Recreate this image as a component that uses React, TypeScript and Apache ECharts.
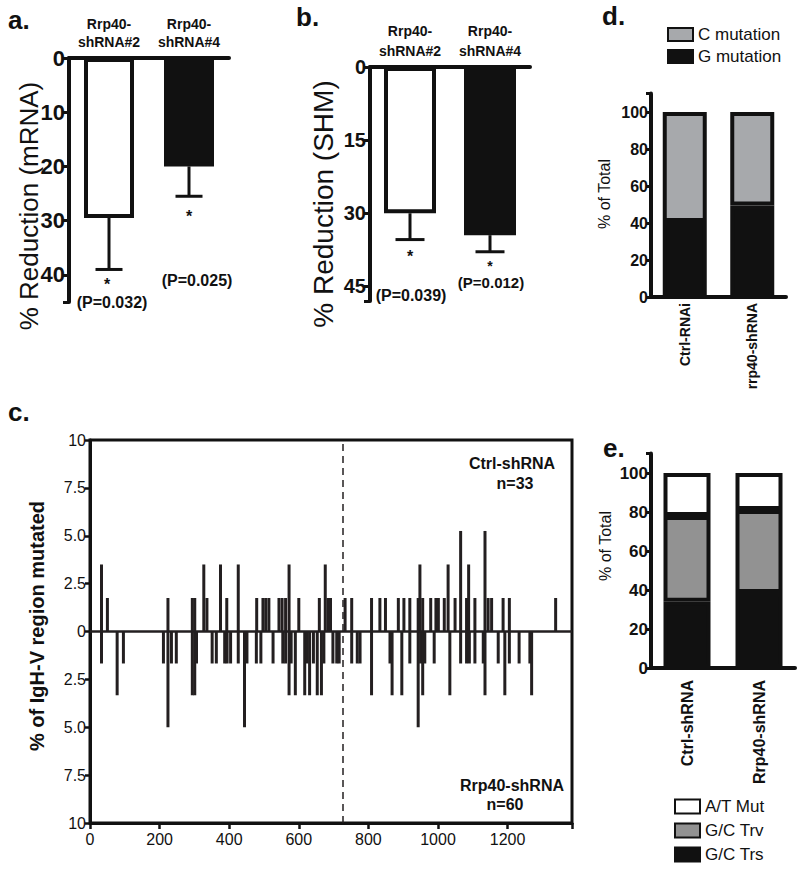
import React, { useEffect, useRef } from "react";
import * as echarts from "echarts";

const FONT = '"Liberation Sans", Arial, Helvetica, sans-serif';
const INK = "#111111";

// ---------- panel a ----------
const aCategories = ["Rrp40-\nshRNA#2", "Rrp40-\nshRNA#4"];
const aValues = [29.5, 20];
const aErrors = [9.5, 5.5];
const aTicks = [0, 10, 20, 30, 40];
const aPValues = ["(P=0.032)", "(P=0.025)"];

// ---------- panel b ----------
const bCategories = ["Rrp40-\nshRNA#2", "Rrp40-\nshRNA#4"];
const bValues = [30, 34.5];
const bErrors = [5.4, 3.4];
const bTicks = [0, 15, 30, 45];
const bPValues = ["(P=0.039)", "(P=0.012)"];

// ---------- panel c ----------
const ctrlPos = [33, 50, 224, 294, 301, 327, 336, 375, 393, 426, 479, 497, 505, 514, 543, 552, 562, 572, 600, 659, 676, 684, 691, 733, 752, 809, 833, 849, 886, 902, 919, 943, 948, 956, 979, 994, 1001, 1018, 1029, 1049, 1065, 1082, 1088, 1106, 1135, 1144, 1154, 1187, 1205, 1338];
const ctrlVal = [3.5, 1.75, 1.75, 1.75, 1.75, 3.5, 1.75, 3.5, 1.75, 3.5, 1.75, 1.75, 1.75, 1.75, 1.75, 1.75, 1.75, 3.5, 1.75, 1.75, 3.5, 1.75, 1.75, 1.75, 1.75, 1.75, 1.75, 1.75, 1.75, 1.75, 1.75, 1.75, 3.5, 1.75, 1.75, 1.75, 1.75, 1.75, 3.5, 1.75, 5.25, 1.75, 3.5, 1.75, 5.25, 1.75, 1.75, 1.75, 1.75, 1.75];
const rrpPos = [33, 78, 96, 211, 224, 234, 248, 294, 301, 306, 351, 363, 387, 394, 404, 426, 444, 451, 478, 491, 526, 554, 562, 572, 578, 590, 617, 624, 631, 642, 653, 665, 672, 698, 709, 716, 752, 768, 776, 809, 862, 868, 896, 919, 943, 950, 956, 962, 989, 1034, 1065, 1082, 1090, 1106, 1130, 1135, 1173, 1192, 1205, 1233, 1264, 1269];
const rrpVal = [1.67, 3.33, 1.67, 1.67, 5.0, 1.67, 1.67, 3.33, 3.33, 1.67, 1.67, 1.67, 1.67, 1.67, 1.67, 1.67, 5.0, 1.67, 1.67, 1.67, 1.67, 1.67, 1.67, 3.33, 1.67, 3.33, 3.33, 1.67, 3.33, 1.67, 3.33, 3.33, 1.67, 1.67, 1.67, 1.67, 1.67, 1.67, 1.67, 3.33, 1.67, 3.33, 3.33, 1.67, 5.0, 1.67, 3.33, 1.67, 1.67, 3.33, 1.67, 1.67, 1.67, 1.67, 1.67, 3.33, 1.67, 3.33, 1.67, 1.67, 1.67, 3.33];
const cXTicks = [0, 200, 400, 600, 800, 1000, 1200];
const cDivider = 727;

// ---------- panel d ----------
const dCategories = ["Ctrl-RNAi", "rrp40-shRNA"];
const dG = [40.5, 49.5];
const dC = [59.5, 50.5];
const pctTicks = [0, 20, 40, 60, 80, 100];

// ---------- panel e ----------
const eCategories = ["Ctrl-shRNA", "Rrp40-shRNA"];
const eTrs = [34, 38.5];
const eTrv = [44, 42.5];
const eAT = [22, 19];

function txt(x: number, y: number, text: string, fontSize: number, fontWeight: string = "normal", rotation = 0, align = "center") {
  return {
    type: "text",
    x,
    y,
    rotation,
    silent: true,
    style: { text, fontSize, fontWeight, fontFamily: FONT, fill: INK, align, verticalAlign: "middle" },
  };
}

const onlyTicks = (ticks: number[]) => (v: number) => (ticks.indexOf(v) >= 0 ? String(v) : "");

function errorSeries(xi: number, values: number[], errors: number[], cap: number) {
  return {
    type: "custom",
    xAxisIndex: xi,
    yAxisIndex: xi,
    silent: true,
    z: 1,
    data: values.map((v, i) => [i, v, errors[i]]),
    encode: { x: 0, y: 1 },
    renderItem: (_p: any, api: any) => {
      const x = api.value(0);
      const m = api.value(1);
      const e = api.value(2);
      const p0 = api.coord([x, m]);
      const p1 = api.coord([x, m + e]);
      return {
        type: "group",
        children: [
          { type: "line", shape: { x1: p0[0], y1: p0[1], x2: p1[0], y2: p1[1] }, style: { stroke: INK, lineWidth: 3 } },
          { type: "line", shape: { x1: p1[0] - cap, y1: p1[1], x2: p1[0] + cap, y2: p1[1] }, style: { stroke: INK, lineWidth: 3 } },
        ],
      };
    },
  };
}

function catTopAxis(gi: number, data: string[], lineHeight: number, margin: number) {
  return {
    type: "category",
    gridIndex: gi,
    position: "top",
    data,
    axisLine: { onZero: false, lineStyle: { color: INK, width: 4 } },
    axisTick: { alignWithLabel: true, interval: 0, length: 6, lineStyle: { color: INK, width: 3 } },
    axisLabel: { interval: 0, color: INK, fontFamily: FONT, fontWeight: "bold", fontSize: 14, lineHeight, margin },
  };
}

function invValueAxis(gi: number, max: number, ticks: number[], fontSize: number) {
  return {
    type: "value",
    gridIndex: gi,
    inverse: true,
    min: 0,
    max,
    interval: ticks[1] - ticks[0],
    splitLine: { show: false },
    axisLine: { show: true, onZero: false, lineStyle: { color: INK, width: 4 } },
    axisTick: { show: true, length: 6, lineStyle: { color: INK, width: 3 } },
    axisLabel: { color: INK, fontFamily: FONT, fontWeight: "bold", fontSize, margin: 4, formatter: onlyTicks(ticks) },
  };
}

function catBottomAxis(gi: number, data: string[], fontSize: number, margin: number) {
  return {
    type: "category",
    gridIndex: gi,
    data,
    axisLine: { onZero: false, lineStyle: { color: INK, width: 4 } },
    axisTick: { alignWithLabel: true, interval: 0, length: 6, lineStyle: { color: INK, width: 3 } },
    axisLabel: { interval: 0, color: INK, fontFamily: FONT, fontWeight: "bold", fontSize, rotate: 90, margin },
  };
}

function pctAxis(gi: number, fontSize: number) {
  return {
    type: "value",
    gridIndex: gi,
    min: 0,
    max: 110,
    interval: 20,
    splitLine: { show: false },
    axisLine: { show: true, onZero: false, lineStyle: { color: INK, width: 4 } },
    axisTick: { show: true, length: 5, lineStyle: { color: INK, width: 3 } },
    axisLabel: { color: INK, fontFamily: FONT, fontWeight: "bold", fontSize, margin: 3, formatter: onlyTicks(pctTicks) },
  };
}

function buildOption() {
  const cData = [
    ...ctrlPos.map((p, i) => [p, ctrlVal[i]]),
    ...rrpPos.map((p, i) => [p, -rrpVal[i]]),
  ];
  const fmtC = (v: number) => {
    const a = Math.abs(v);
    if (a === 0) return "0";
    if (a === 10) return "10";
    return a.toFixed(1);
  };
  const barBorder = { borderColor: INK, borderWidth: 4 };

  return {
    animation: false,
    backgroundColor: "#ffffff",
    textStyle: { fontFamily: FONT },
    grid: [
      { left: 69, top: 58, width: 160, height: 244 },
      { left: 370, top: 67, width: 160, height: 234 },
      { left: 90, top: 440, width: 482, height: 383, show: true, borderColor: INK, borderWidth: 3 },
      { left: 651, top: 93.5, width: 135, height: 203.5 },
      { left: 651, top: 453.5, width: 144, height: 214.5 },
    ],
    xAxis: [
      catTopAxis(0, aCategories, 18, 7),
      catTopAxis(1, bCategories, 20, 6),
      {
        type: "value",
        gridIndex: 2,
        min: 0,
        max: 1385,
        interval: 200,
        splitLine: { show: false },
        axisLine: { onZero: false, lineStyle: { color: INK, width: 3 } },
        axisTick: { length: 6, lineStyle: { color: INK, width: 2.5 } },
        axisLabel: { color: INK, fontFamily: FONT, fontSize: 16, margin: 8, formatter: onlyTicks(cXTicks) },
      },
      catBottomAxis(3, dCategories, 14, 6),
      catBottomAxis(4, eCategories, 16, 12),
    ],
    yAxis: [
      invValueAxis(0, 45, aTicks, 22),
      invValueAxis(1, 48, bTicks, 20),
      {
        type: "value",
        gridIndex: 2,
        min: -10,
        max: 10,
        interval: 2.5,
        splitLine: { show: false },
        axisLine: { show: true, onZero: false, lineStyle: { color: INK, width: 3 } },
        axisTick: { show: true, length: 5, lineStyle: { color: INK, width: 2.5 } },
        axisLabel: { color: INK, fontFamily: FONT, fontSize: 16, margin: 4, formatter: fmtC },
      },
      pctAxis(3, 16),
      pctAxis(4, 17),
    ],
    legend: [
      {
        data: ["C mutation", "G mutation"],
        orient: "vertical",
        left: 667,
        top: 26,
        padding: 0,
        itemWidth: 25,
        itemHeight: 13,
        itemGap: 5,
        icon: "rect",
        selectedMode: false,
        textStyle: { fontSize: 17, fontFamily: FONT, color: INK },
      },
      {
        data: ["A/T Mut", "G/C Trv", "G/C Trs"],
        orient: "vertical",
        left: 674,
        top: 798,
        padding: 0,
        itemWidth: 25,
        itemHeight: 14,
        itemGap: 7,
        icon: "rect",
        selectedMode: false,
        textStyle: { fontSize: 17, fontFamily: FONT, color: INK },
      },
    ],
    series: [
      {
        type: "bar",
        xAxisIndex: 0,
        yAxisIndex: 0,
        barWidth: 50,
        silent: true,
        z: 2,
        data: aValues.map((v, i) => ({ value: v, itemStyle: { color: i === 0 ? "#ffffff" : INK, ...barBorder } })),
      },
      errorSeries(0, aValues, aErrors, 13.5),
      {
        type: "bar",
        xAxisIndex: 1,
        yAxisIndex: 1,
        barWidth: 52,
        silent: true,
        z: 2,
        data: bValues.map((v, i) => ({ value: v, itemStyle: { color: i === 0 ? "#ffffff" : INK, ...barBorder } })),
      },
      errorSeries(1, bValues, bErrors, 14.5),
      {
        type: "bar",
        xAxisIndex: 2,
        yAxisIndex: 2,
        barWidth: 3,
        silent: true,
        itemStyle: { color: "#231f20" },
        data: cData,
        markLine: {
          silent: true,
          symbol: "none",
          label: { show: false },
          data: [
            { yAxis: 0, lineStyle: { color: "#231f20", width: 2.5, type: "solid" } },
            { xAxis: cDivider, lineStyle: { color: "#231f20", width: 1.5, type: [7, 5] } },
          ],
        },
      },
      {
        name: "G mutation",
        type: "bar",
        xAxisIndex: 3,
        yAxisIndex: 3,
        stack: "d",
        barWidth: 44,
        silent: true,
        itemStyle: { color: INK, ...barBorder },
        data: dG,
      },
      {
        name: "C mutation",
        type: "bar",
        xAxisIndex: 3,
        yAxisIndex: 3,
        stack: "d",
        barWidth: 44,
        silent: true,
        itemStyle: { color: "#a7a9ac", ...barBorder },
        data: dC,
      },
      {
        name: "G/C Trs",
        type: "bar",
        xAxisIndex: 4,
        yAxisIndex: 4,
        stack: "e",
        barWidth: 47,
        silent: true,
        itemStyle: { color: INK, ...barBorder },
        data: eTrs,
      },
      {
        name: "G/C Trv",
        type: "bar",
        xAxisIndex: 4,
        yAxisIndex: 4,
        stack: "e",
        barWidth: 47,
        silent: true,
        itemStyle: { color: "#929292", ...barBorder },
        data: eTrv,
      },
      {
        name: "A/T Mut",
        type: "bar",
        xAxisIndex: 4,
        yAxisIndex: 4,
        stack: "e",
        barWidth: 47,
        silent: true,
        itemStyle: { color: "#ffffff", ...barBorder },
        data: eAT,
      },
    ],
    graphic: [
      // panel letters
      txt(8, 20, "a.", 26, "bold", 0, "left"),
      txt(296, 17, "b.", 26, "bold", 0, "left"),
      txt(8, 412, "c.", 26, "bold", 0, "left"),
      txt(602, 16, "d.", 26, "bold", 0, "left"),
      txt(603, 448, "e.", 26, "bold", 0, "left"),
      // axis titles
      txt(29, 206, "% Reduction (mRNA)", 26, "normal", Math.PI / 2),
      txt(323, 204, "% Reduction (SHM)", 28, "normal", Math.PI / 2),
      txt(37, 626, "% of IgH-V region mutated", 20, "bold", Math.PI / 2),
      txt(604, 194, "% of Total", 16, "normal", Math.PI / 2),
      txt(605, 546, "% of Total", 16, "normal", Math.PI / 2),
      // panel a annotations
      txt(107, 284, "*", 16, "bold"),
      txt(189, 216, "*", 16, "bold"),
      txt(112, 302, aPValues[0], 16, "bold"),
      txt(197, 280, aPValues[1], 16, "bold"),
      // panel b annotations
      txt(410, 256, "*", 16, "bold"),
      txt(490, 266, "*", 14, "bold"),
      txt(411, 295, bPValues[0], 16, "bold"),
      txt(491, 282, bPValues[1], 15, "bold"),
      // panel c annotations
      txt(512, 463, "Ctrl-shRNA", 16, "bold"),
      txt(515, 483, "n=33", 16, "bold"),
      txt(512, 785, "Rrp40-shRNA", 16, "bold"),
      txt(505, 804, "n=60", 16, "bold"),
    ],
  };
}

export default function App() {
  const ref = useRef<HTMLDivElement>(null);
  useEffect(() => {
    if (!ref.current) return;
    const chart = echarts.init(ref.current, null, { renderer: "svg" });
    chart.setOption(buildOption() as any);
    return () => chart.dispose();
  }, []);
  return (
    <div
      ref={ref}
      style={{ position: "fixed", left: 0, top: 0, width: 800, height: 870, background: "#ffffff" }}
    />
  );
}
